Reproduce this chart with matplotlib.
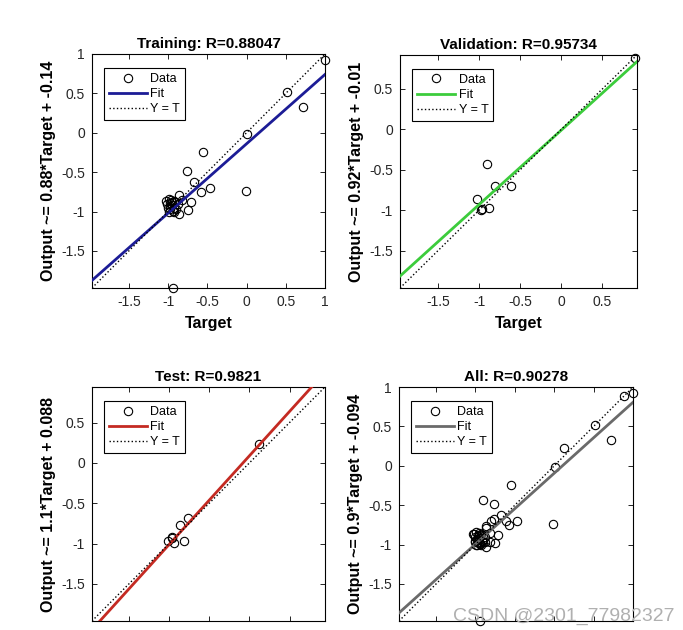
import numpy as np
import matplotlib
matplotlib.use("Agg")
import matplotlib.pyplot as plt
from matplotlib.ticker import FormatStrFormatter

plt.rcParams['font.family'] = ['Liberation Sans', 'DejaVu Sans']
plt.rcParams['axes.unicode_minus'] = False

# Training set: targets / outputs
train_t = [1.00, 0.52, 0.72, 0.01, -0.55, -0.76, -0.67, -0.47, -0.58, -0.01,
           -0.71, -0.75, -0.94, -0.86, -0.99, -0.93, -1.01, -0.95, -0.88, -0.97,
           -0.99, -0.93, -0.82, -1.03, -0.90, -0.86, -0.95, -0.98, -0.96, -0.92,
           -1.00, -0.94, -0.97, -0.91]
train_y = [0.93, 0.52, 0.33, -0.01, -0.25, -0.48, -0.62, -0.70, -0.75, -0.74,
           -0.88, -0.98, -1.97, -0.79, -0.84, -0.86, -0.90, -0.92, -0.90, -0.97,
           -1.00, -1.01, -0.85, -0.87, -0.97, -1.03, -0.88, -0.93, -0.85, -0.95,
           -0.96, -0.99, -0.89, -0.88]

# Validation set
val_t = [0.89, -0.90, -0.80, -0.61, -1.02, -0.88, -0.96, -0.98]
val_y = [0.88, -0.43, -0.70, -0.70, -0.86, -0.97, -0.98, -1.00]

# Test set
test_t = [0.12, -0.77, -0.86, -0.96, -0.97, -1.01, -0.94, -0.82]
test_y = [0.23, -0.68, -0.77, -0.92, -0.93, -0.97, -0.99, -0.97]

all_t = train_t + val_t + test_t
all_y = train_y + val_y + test_y

names = ["Training", "Validation", "Test", "All"]
r_values = ["0.88047", "0.95734", "0.9821", "0.90278"]
slopes = [0.88, 0.92, 1.1, 0.9]
intercepts = [-0.14, -0.01, 0.088, -0.094]
limits = [(-1.97, 1.0), (-1.96, 0.92), (-1.96, 0.94), (-1.97, 1.0)]
fit_colors = ["#1c1c96", "#3ccc3c", "#c42a22", "#6a6a6a"]
tick_vals = [-1.5, -1, -0.5, 0, 0.5, 1]

datasets = [(train_t, train_y), (val_t, val_y), (test_t, test_y), (all_t, all_y)]

# axes boxes [left, bottom, width, height] in figure fractions
positions = [
    [0.1347, 0.5429, 0.3411, 0.3714],
    [0.5857, 0.5429, 0.3470, 0.3700],
    [0.1347, 0.0143, 0.3411, 0.3714],
    [0.5842, 0.0143, 0.3426, 0.3714],
]

fig = plt.figure(figsize=(6.83, 6.30), dpi=100)

for i in range(4):
    ax = fig.add_axes(positions[i])
    t, y = datasets[i]
    lo, hi = limits[i]
    ax.plot(t, y, 'o', mfc='none', mec='black', ms=6, mew=0.8, label='Data',
            clip_on=False, zorder=3)
    xs = np.array([lo, hi])
    ax.plot(xs, slopes[i] * xs + intercepts[i], '-', color=fit_colors[i], lw=2,
            label='Fit', zorder=4)
    ax.plot(xs, xs, ':', color='black', lw=1, label='Y = T', zorder=4)
    ax.set_xlim(lo, hi)
    ax.set_ylim(lo, hi)
    ticks = [v for v in tick_vals if lo <= v <= hi]
    ax.set_xticks(ticks)
    ax.set_yticks(ticks)
    ax.xaxis.set_major_formatter(FormatStrFormatter('%g'))
    ax.yaxis.set_major_formatter(FormatStrFormatter('%g'))
    ax.tick_params(direction='in', top=True, right=True, length=3.5, width=0.6,
                   labelsize=10, labelcolor='#262626', pad=5)
    for s in ax.spines.values():
        s.set_linewidth(0.8)
    ax.set_title(f"{names[i]}: R={r_values[i]}", fontsize=11, fontweight='bold', pad=4)
    if i < 2:
        ax.set_xlabel("Target", fontsize=11.5, fontweight='bold', labelpad=5)
    else:
        # bottom row: tick labels and x label fall below the cropped picture
        ax.tick_params(labelbottom=False)
    ax.set_ylabel(f"Output ~= {slopes[i]:g}*Target + {intercepts[i]:g}",
                  fontsize=11.5, fontweight='bold', labelpad=4)
    leg = ax.legend(loc='upper left', bbox_to_anchor=(0.052, 0.94), borderaxespad=0,
                    fontsize=9, handlelength=3.0, handletextpad=0.3, labelspacing=0.25,
                    borderpad=0.4, fancybox=False, framealpha=1, edgecolor='black',
                    numpoints=1)
    leg.get_frame().set_linewidth(0.8)
    leg.set_zorder(10)

fig.text(0.663, 0.021, "CSDN @2301_77982327", fontsize=14, color='#b0b0b0',
         ha='left', va='center')

fig.savefig("out.png", dpi=100)
